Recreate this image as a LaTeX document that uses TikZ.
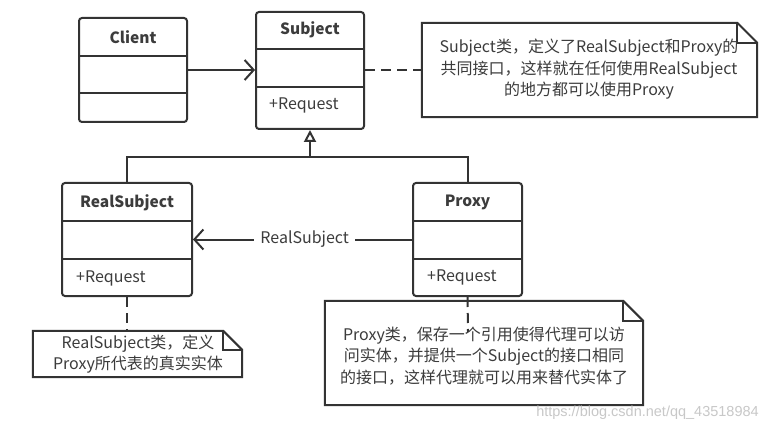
\documentclass[tikz,border=0pt]{standalone}
\usepackage{fontspec}
\setmainfont{Noto Sans CJK SC}
\newfontfamily\wmfont{Liberation Sans}
\usetikzlibrary{arrows.meta}
\definecolor{ink}{HTML}{333333}
\definecolor{txt}{HTML}{3C3C3C}
\definecolor{wm}{HTML}{C8C8C8}
\begin{document}
\begin{tikzpicture}[x=1pt,y=-1pt,
  classbox/.style={draw=ink, line width=2pt, rounded corners=3pt, inner sep=0pt},
  title/.style={font=\fontsize{15.5}{17}\selectfont\bfseries, text=txt},
  member/.style={font=\fontsize{16}{18}\selectfont, text=txt, anchor=west, inner sep=0pt},
  conn/.style={draw=ink, line width=2pt},
  dashconn/.style={conn, dash pattern=on 10pt off 6pt},
  notebg/.style={inner sep=0pt},
  notetext/.style={font=\fontsize{16}{21.5}\selectfont, text=txt, align=center, inner sep=0pt},
  barb/.style={-{Straight Barb[length=9pt,width=20pt,line width=2pt]}}
]
\useasboundingbox[fill=white] (0,0) rectangle (778,430);

% Class boxes
\node[classbox, minimum width=108pt, minimum height=104pt] (client) at (133,70) {};
\node[title] (clientT) at (133,37) {Client};
\draw[conn] (client.west |- 0,56) -- (client.east |- 0,56);
\draw[conn] (client.west |- 0,93) -- (client.east |- 0,93);

\node[classbox, minimum width=108pt, minimum height=117pt] (subject) at (310,70.5) {};
\node[title] (subjectT) at (310,30) {Subject};
\draw[conn] (subject.west |- 0,49) -- (subject.east |- 0,49);
\draw[conn] (subject.west |- 0,87) -- (subject.east |- 0,87);
\node[member] (subjectR) at (269,105) {+Request};

\node[classbox, minimum width=130pt, minimum height=113pt] (rs) at (127,239.5) {};
\node[title] (rsT) at (127,203) {RealSubject};
\draw[conn] (rs.west |- 0,221) -- (rs.east |- 0,221);
\draw[conn] (rs.west |- 0,259) -- (rs.east |- 0,259);
\node[member] (rsR) at (76,278) {+Request};

\node[classbox, minimum width=109pt, minimum height=113pt] (proxy) at (467.5,239.5) {};
\node[title] (proxyT) at (467.5,202) {Proxy};
\draw[conn] (proxy.west |- 0,221) -- (proxy.east |- 0,221);
\draw[conn] (proxy.west |- 0,259) -- (proxy.east |- 0,259);
\node[member] (proxyR) at (427,277) {+Request};

% Client -> Subject
\draw[conn, barb] (client.east) -- (subject.west |- client.east);

% Generalization
\coordinate (j) at (310,157);
\draw[conn, line join=miter] (rs.north) |- (j) -| (proxy.north);
\draw[conn, -{Triangle[open, length=12pt, width=12pt, line width=2pt]}] (j) -- (subject.south);

% Association Proxy -> RealSubject
\draw[conn, barb] (proxy.west) -- (rs.east)
  node[pos=0.49, fill=white, inner xsep=6pt, inner ysep=2pt, font=\fontsize{16}{18}\selectfont, text=txt] (assoc) {RealSubject};

% Note 1
\node[notebg, minimum width=335pt, minimum height=94pt] (n1) at (589.5,70) {};
\draw[conn, line join=miter] (n1.south west) -- (n1.north west) -- ([xshift=-20pt]n1.north east) -- ([yshift=-20pt]n1.north east) -- (n1.south east) -- cycle;
\draw[conn, line join=miter] ([xshift=-20pt]n1.north east) -- ([xshift=-20pt,yshift=-20pt]n1.north east) -- ([yshift=-20pt]n1.north east);
\node[notetext] (n1t) at (589,69.5) {Subject类，定义了RealSubject和Proxy的\\共同接口，这样就在任何使用RealSubject\\的地方都可以使用Proxy};
\draw[dashconn] (subject.east |- n1.west) -- (n1.west);

% Note 2
\node[notebg, minimum width=209pt, minimum height=46pt] (n2) at (137.5,354) {};
\draw[conn, line join=miter] (n2.south west) -- (n2.north west) -- ([xshift=-19pt]n2.north east) -- ([yshift=-19pt]n2.north east) -- (n2.south east) -- cycle;
\draw[conn, line join=miter] ([xshift=-19pt]n2.north east) -- ([xshift=-19pt,yshift=-19pt]n2.north east) -- ([yshift=-19pt]n2.north east);
\node[notetext] (n2t) at (138,354) {RealSubject类，定义\\Proxy所代表的真实实体};
\draw[dashconn] (rs.south) -- (rs.south |- n2.north);

% Note 3
\node[notebg, minimum width=318pt, minimum height=104pt] (n3) at (484,353) {};
\draw[conn, line join=miter] (n3.south west) -- (n3.north west) -- ([xshift=-20pt]n3.north east) -- ([yshift=-20pt]n3.north east) -- (n3.south east) -- cycle;
\draw[conn, line join=miter] ([xshift=-20pt]n3.north east) -- ([xshift=-20pt,yshift=-20pt]n3.north east) -- ([yshift=-20pt]n3.north east);
\coordinate (pend) at (468,332);
\draw[dashconn] (proxy.south) -- (pend);
\node[notetext] (n3t) at (484,356) {Proxy类，保存一个引用使得代理可以访\\问实体，并提供一个Subject的接口相同\\的接口，这样代理就可以用来替代实体了};

% Watermark
\node[font=\wmfont\fontsize{14.5}{16}\selectfont, text=wm, inner sep=0pt] (wmk) at (647.5,413) {https://blog.csdn.net/qq\_43518984};
\end{tikzpicture}
\end{document}
